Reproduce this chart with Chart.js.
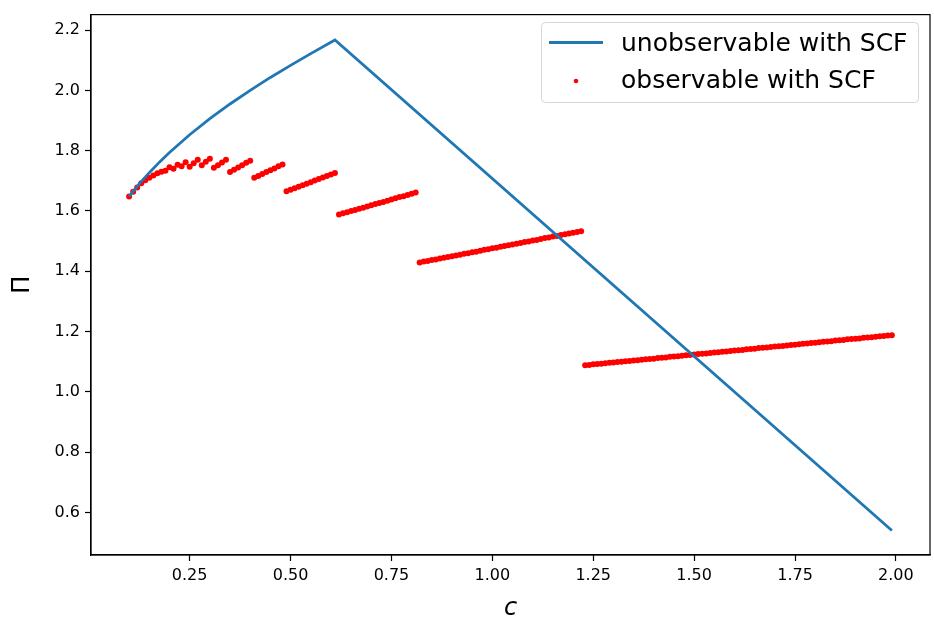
<!DOCTYPE html>
<html>
<head>
<meta charset="utf-8">
<script src="https://cdn.jsdelivr.net/npm/chart.js@4"></script>
<style>
  body { margin: 0; background: #fff; }
  canvas { display: block; }
</style>
</head>
<body>
<canvas id="chart" width="934" height="623"></canvas>
<script>
// unobservable with SCF (blue line)
var lineC  = [0.10, 0.125, 0.15, 0.175, 0.20, 0.25, 0.30, 0.35, 0.40, 0.45, 0.50, 0.55, 0.61, 1.99];
var linePi = [1.648, 1.690, 1.727, 1.762, 1.794, 1.853, 1.906, 1.955, 2.000, 2.043, 2.083, 2.122, 2.167, 0.540];

// observable with SCF (red dots)
var obsC = [
  0.10, 0.11, 0.12, 0.13, 0.14, 0.15, 0.16, 0.17, 0.18, 0.19,
  0.20, 0.21, 0.22, 0.23, 0.24, 0.25, 0.26, 0.27, 0.28, 0.29,
  0.30, 0.31, 0.32, 0.33, 0.34, 0.35, 0.36, 0.37, 0.38, 0.39,
  0.40, 0.41, 0.42, 0.43, 0.44, 0.45, 0.46, 0.47, 0.48, 0.49,
  0.50, 0.51, 0.52, 0.53, 0.54, 0.55, 0.56, 0.57, 0.58, 0.59,
  0.60, 0.61, 0.62, 0.63, 0.64, 0.65, 0.66, 0.67, 0.68, 0.69,
  0.70, 0.71, 0.72, 0.73, 0.74, 0.75, 0.76, 0.77, 0.78, 0.79,
  0.80, 0.81, 0.82, 0.83, 0.84, 0.85, 0.86, 0.87, 0.88, 0.89,
  0.90, 0.91, 0.92, 0.93, 0.94, 0.95, 0.96, 0.97, 0.98, 0.99,
  1.00, 1.01, 1.02, 1.03, 1.04, 1.05, 1.06, 1.07, 1.08, 1.09,
  1.10, 1.11, 1.12, 1.13, 1.14, 1.15, 1.16, 1.17, 1.18, 1.19,
  1.20, 1.21, 1.22, 1.23, 1.24, 1.25, 1.26, 1.27, 1.28, 1.29,
  1.30, 1.31, 1.32, 1.33, 1.34, 1.35, 1.36, 1.37, 1.38, 1.39,
  1.40, 1.41, 1.42, 1.43, 1.44, 1.45, 1.46, 1.47, 1.48, 1.49,
  1.50, 1.51, 1.52, 1.53, 1.54, 1.55, 1.56, 1.57, 1.58, 1.59,
  1.60, 1.61, 1.62, 1.63, 1.64, 1.65, 1.66, 1.67, 1.68, 1.69,
  1.70, 1.71, 1.72, 1.73, 1.74, 1.75, 1.76, 1.77, 1.78, 1.79,
  1.80, 1.81, 1.82, 1.83, 1.84, 1.85, 1.86, 1.87, 1.88, 1.89,
  1.90, 1.91, 1.92, 1.93, 1.94, 1.95, 1.96, 1.97, 1.98, 1.99
];
var obsPi = [
  1.648, 1.664, 1.678, 1.692, 1.702, 1.710, 1.718, 1.725, 1.730, 1.733,
  1.745, 1.740, 1.753, 1.748, 1.762, 1.747, 1.758, 1.770, 1.752, 1.763,
  1.773, 1.743, 1.752, 1.761, 1.770, 1.729, 1.737, 1.744, 1.752, 1.760,
  1.767, 1.710, 1.716, 1.723, 1.729, 1.735, 1.741, 1.748, 1.754, 1.665,
  1.670, 1.675, 1.680, 1.685, 1.690, 1.695, 1.701, 1.706, 1.711, 1.716,
  1.721, 1.726, 1.588, 1.592, 1.596, 1.600, 1.603, 1.607, 1.611, 1.615,
  1.619, 1.623, 1.626, 1.630, 1.634, 1.638, 1.642, 1.646, 1.649, 1.653,
  1.657, 1.661, 1.429, 1.432, 1.434, 1.437, 1.439, 1.442, 1.445, 1.447,
  1.450, 1.452, 1.455, 1.458, 1.460, 1.463, 1.465, 1.468, 1.471, 1.473,
  1.476, 1.478, 1.481, 1.484, 1.486, 1.489, 1.491, 1.494, 1.497, 1.499,
  1.502, 1.504, 1.507, 1.510, 1.512, 1.515, 1.517, 1.520, 1.523, 1.525,
  1.528, 1.530, 1.533, 1.088, 1.089, 1.091, 1.092, 1.093, 1.095, 1.096,
  1.097, 1.099, 1.100, 1.101, 1.102, 1.104, 1.105, 1.106, 1.108, 1.109,
  1.110, 1.112, 1.113, 1.114, 1.116, 1.117, 1.118, 1.120, 1.121, 1.122,
  1.124, 1.125, 1.126, 1.127, 1.129, 1.130, 1.131, 1.133, 1.134, 1.135,
  1.137, 1.138, 1.139, 1.141, 1.142, 1.143, 1.145, 1.146, 1.147, 1.149,
  1.150, 1.151, 1.152, 1.154, 1.155, 1.156, 1.158, 1.159, 1.160, 1.162,
  1.163, 1.164, 1.166, 1.167, 1.168, 1.170, 1.171, 1.172, 1.174, 1.175,
  1.176, 1.177, 1.179, 1.180, 1.181, 1.183, 1.184, 1.185, 1.187, 1.188
];

var xTicks = [0.25, 0.50, 0.75, 1.00, 1.25, 1.50, 1.75, 2.00];
var yTicks = [0.6, 0.8, 1.0, 1.2, 1.4, 1.6, 1.8, 2.0, 2.2];

var FONT = 'DejaVu Sans';

function toPoints(xs, ys) {
    return xs.map(function(x, i) { return { x: x, y: ys[i] }; });
}

// frame on all four sides + legend box inside the plot, matplotlib style
var framePlugin = {
    id: 'frame',
    afterDraw: function(chart) {
        var ctx = chart.ctx, a = chart.chartArea;
        ctx.save();
        ctx.strokeStyle = '#000';
        ctx.lineWidth = 1.2;
        ctx.strokeRect(a.left, a.top, a.right - a.left, a.bottom - a.top);

        // legend
        var bx = 541.5, by = 22.5, bw = 377, bh = 80;
        ctx.beginPath();
        ctx.roundRect(bx, by, bw, bh, 4);
        ctx.fillStyle = 'rgba(255,255,255,0.8)';
        ctx.fill();
        ctx.strokeStyle = '#d6d6d6';
        ctx.lineWidth = 1;
        ctx.stroke();

        var ds = chart.data.datasets;
        ctx.font = '25px "' + FONT + '"';
        ctx.fillStyle = '#000';
        ctx.textBaseline = 'middle';
        ctx.textAlign = 'left';

        ctx.strokeStyle = ds[0].borderColor;
        ctx.lineWidth = 2.8;
        ctx.beginPath();
        ctx.moveTo(549, 42.5);
        ctx.lineTo(603, 42.5);
        ctx.stroke();
        ctx.fillText(ds[0].label, 621, 44);

        ctx.fillStyle = ds[1].backgroundColor;
        ctx.beginPath();
        ctx.arc(576, 81, 2.3, 0, Math.PI * 2);
        ctx.fill();
        ctx.fillStyle = '#000';
        ctx.fillText(ds[1].label, 621, 81);
        ctx.restore();
    }
};

new Chart(document.getElementById('chart'), {
    type: 'scatter',
    data: {
        datasets: [
            {
                label: 'unobservable with SCF',
                data: toPoints(lineC, linePi),
                showLine: true,
                borderColor: '#1f77b4',
                backgroundColor: '#1f77b4',
                borderWidth: 2.8,
                pointRadius: 0,
                tension: 0,
                order: 0
            },
            {
                label: 'observable with SCF',
                data: toPoints(obsC, obsPi),
                backgroundColor: '#ff0000',
                borderWidth: 0,
                pointRadius: 3,
                order: 1
            }
        ]
    },
    plugins: [framePlugin],
    options: {
        responsive: false,
        devicePixelRatio: 1,
        animation: false,
        layout: { padding: { left: 0, top: 10, right: 3, bottom: 0 } },
        plugins: {
            legend: { display: false },
            tooltip: { enabled: false }
        },
        scales: {
            x: {
                type: 'linear',
                min: 0.0055,
                max: 2.0845,
                afterBuildTicks: function(s) { s.ticks = xTicks.map(function(v) { return { value: v }; }); },
                afterFit: function(s) { s.height = 68; },
                grid: { display: true, drawOnChartArea: false, drawTicks: true, tickLength: 6, tickWidth: 1.2, color: '#000' },
                border: { display: true, color: '#000', width: 1.2 },
                ticks: {
                    color: '#000',
                    padding: 5,
                    maxRotation: 0,
                    font: { family: FONT, size: 16 },
                    callback: function(v) { return v.toFixed(2); }
                },
                title: {
                    display: true,
                    text: 'c',
                    color: '#000',
                    padding: { top: 0, bottom: 0 },
                    font: { family: FONT, size: 24, style: 'italic' }
                }
            },
            y: {
                type: 'linear',
                min: 0.4585,
                max: 2.2515,
                afterBuildTicks: function(s) { s.ticks = yTicks.map(function(v) { return { value: v }; }); },
                afterFit: function(s) { s.width = 91; },
                grid: { display: true, drawOnChartArea: false, drawTicks: true, tickLength: 6, tickWidth: 1.2, color: '#000' },
                border: { display: true, color: '#000', width: 1.2 },
                ticks: {
                    color: '#000',
                    padding: 5,
                    font: { family: FONT, size: 16 },
                    callback: function(v) { return v.toFixed(1); }
                },
                title: {
                    display: true,
                    text: 'Π',
                    color: '#000',
                    padding: { top: 8, bottom: 0 },
                    font: { family: FONT, size: 24 }
                }
            }
        }
    }
});
</script>
</body>
</html>
